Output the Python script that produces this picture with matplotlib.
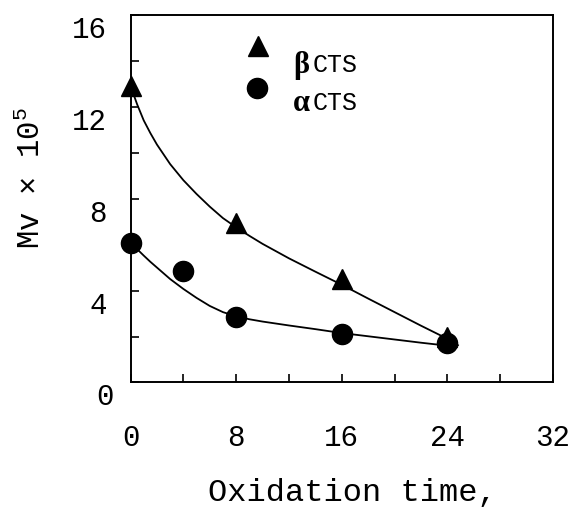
import numpy as np
import matplotlib
matplotlib.use('Agg')
import matplotlib.pyplot as plt
from matplotlib.ticker import MultipleLocator
from matplotlib.transforms import ScaledTranslation

plt.rcParams['font.family'] = ['Liberation Mono', 'DejaVu Sans']
plt.rcParams['mathtext.fontset'] = 'custom'
plt.rcParams['mathtext.rm'] = 'Liberation Mono'

# measured points
time_beta = [0, 8, 16, 24]
mv_beta = [12.9, 6.95, 4.5, 2.0]
time_alpha = [0, 4, 8, 16, 24]
mv_alpha = [6.08, 4.86, 2.86, 2.11, 1.73]

# fitted curves
fit_beta_x = [0, 0.5, 1, 1.5, 2, 3, 4, 5, 6, 7, 8, 9, 10, 12, 14, 16, 18, 20, 22, 24, 24.8]
fit_beta_y = [12.9, 12.1, 11.4, 10.85, 10.35, 9.5, 8.8, 8.2, 7.65, 7.15, 6.75, 6.38, 6.03,
              5.4, 4.82, 4.25, 3.65, 3.06, 2.47, 1.9, 1.62]
fit_alpha_x = [0, 0.5, 1, 1.5, 2, 3, 4, 5, 6, 7, 8, 9, 10, 12, 14, 16, 18, 20, 22, 24, 24.6]
fit_alpha_y = [6.08, 5.8, 5.52, 5.25, 5.0, 4.5, 4.07, 3.68, 3.33, 3.06, 2.88, 2.75, 2.65,
               2.48, 2.32, 2.15, 2.01, 1.87, 1.73, 1.6, 1.56]

fig = plt.figure(figsize=(5.75, 5.07), dpi=100)
ax = fig.add_axes([0.227, 0.2456, 0.7348, 0.7255])

ax.plot(fit_beta_x, fit_beta_y, color='black', lw=1.3, zorder=2)
ax.plot(fit_alpha_x, fit_alpha_y, color='black', lw=1.3, zorder=2)
ax.plot(time_beta, mv_beta, '^', color='black', ms=15, zorder=3, clip_on=False)
ax.plot(time_alpha, mv_alpha, 'o', color='black', ms=14.5, zorder=3, clip_on=False)

ax.set_xlim(0, 32)
ax.set_ylim(0, 16)
ax.xaxis.set_major_locator(MultipleLocator(8))
ax.xaxis.set_minor_locator(MultipleLocator(4))
ax.yaxis.set_major_locator(MultipleLocator(4))
ax.yaxis.set_minor_locator(MultipleLocator(2))
ax.tick_params(which='both', direction='in', length=6, width=1.2,
               top=False, right=False)
ax.tick_params(axis='x', which='major', pad=30, labelsize=21)
ax.tick_params(axis='y', which='major', pad=17, labelsize=21)
for sp in ax.spines.values():
    sp.set_linewidth(1.4)

# y tick labels sit a bit below their ticks in the original, the 0 also a bit to the right
fig.canvas.draw()
off = ScaledTranslation(0, -12 / 100, fig.dpi_scale_trans)
for lbl in ax.get_yticklabels():
    t = lbl.get_transform() + off
    if lbl.get_text() == '0':
        t = t + ScaledTranslation(7 / 100, 0, fig.dpi_scale_trans)
    lbl.set_transform(t)

# legend drawn by hand
ax.plot([0.301], [0.9155], '^', color='black', ms=15, transform=ax.transAxes, clip_on=False)
ax.plot([0.299], [0.80], 'o', color='black', ms=14.5, transform=ax.transAxes, clip_on=False)
ax.text(0.385, 0.862, 'β', family=['Liberation Serif'], weight='bold', fontsize=22,
        ha='left', va='center', transform=ax.transAxes)
ax.text(0.432, 0.862, 'CTS', fontsize=18, ha='left', va='center', transform=ax.transAxes)
ax.text(0.385, 0.759, 'α', family=['Liberation Serif'], weight='bold', fontsize=22,
        ha='left', va='center', transform=ax.transAxes)
ax.text(0.432, 0.759, 'CTS', fontsize=18, ha='left', va='center', transform=ax.transAxes)

fig.text(0.0557, 0.649, 'Mv × 10$^5$', rotation=90, fontsize=22, ha='center', va='center')
fig.text(0.612, 0.012, 'Oxidation time,', fontsize=23, ha='center', va='baseline')

fig.savefig('out.png', dpi=100)
